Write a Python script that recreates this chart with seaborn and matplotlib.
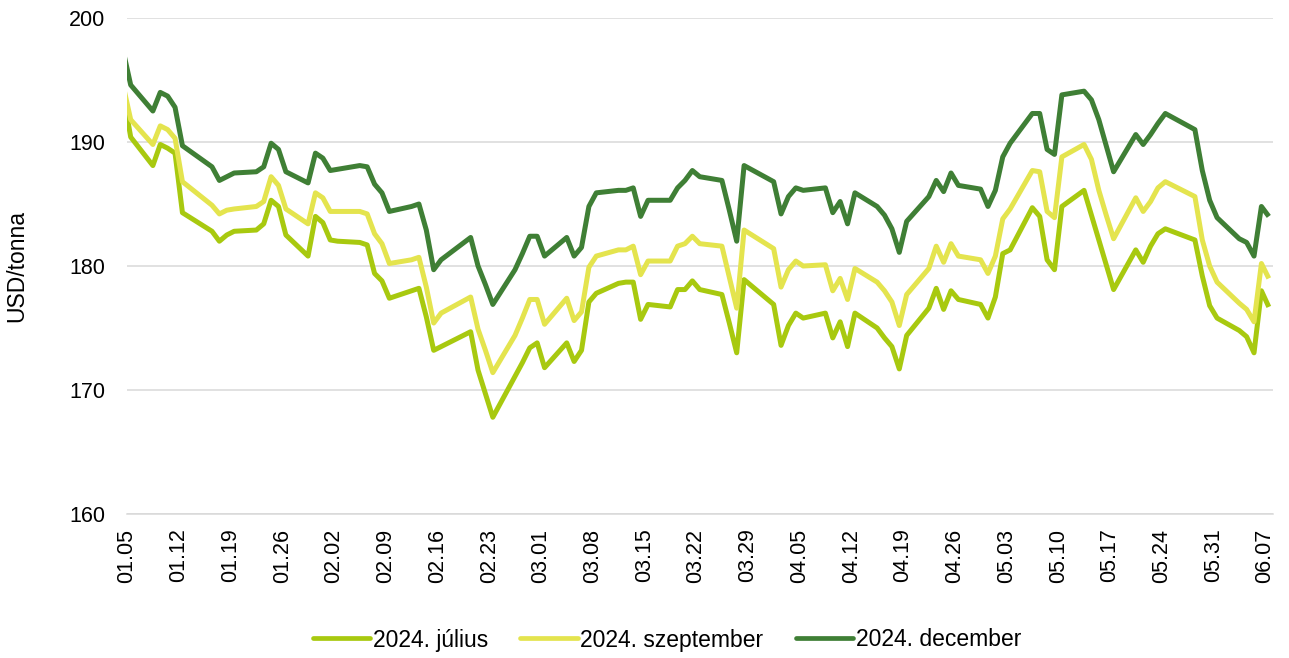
import matplotlib
matplotlib.use("Agg")
import matplotlib.pyplot as plt
import seaborn as sns
import pandas as pd

# Trading days (2024), MM.DD
dates = [
    "01.04", "01.05", "01.08", "01.09", "01.10", "01.11", "01.12", "01.16", "01.17", "01.18",
    "01.19", "01.22", "01.23", "01.24", "01.25", "01.26", "01.29", "01.30", "01.31",
    "02.01", "02.02", "02.05", "02.06", "02.07", "02.08", "02.09", "02.12", "02.13", "02.14",
    "02.15", "02.16", "02.20", "02.21", "02.22", "02.23", "02.26", "02.27", "02.28", "02.29",
    "03.01", "03.04", "03.05", "03.06", "03.07", "03.08", "03.11", "03.12", "03.13", "03.14",
    "03.15", "03.18", "03.19", "03.20", "03.21", "03.22", "03.25", "03.26", "03.27", "03.28",
    "04.01", "04.02", "04.03", "04.04", "04.05", "04.08", "04.09", "04.10", "04.11", "04.12",
    "04.15", "04.16", "04.17", "04.18", "04.19", "04.22", "04.23", "04.24", "04.25", "04.26",
    "04.29", "04.30",
    "05.01", "05.02", "05.03", "05.06", "05.07", "05.08", "05.09", "05.10", "05.13", "05.14",
    "05.15", "05.16", "05.17", "05.20", "05.21", "05.22", "05.23", "05.24", "05.28", "05.29",
    "05.30", "05.31",
    "06.03", "06.04", "06.05", "06.06", "06.07",
]

julius = [
    193.8, 190.4, 188.1, 189.8, 189.5, 189.1, 184.3, 182.8, 182.0, 182.5,
    182.8, 182.9, 183.4, 185.3, 184.8, 182.5, 180.8, 184.0, 183.5,
    182.1, 182.0, 181.9, 181.7, 179.4, 178.8, 177.4, 178.0, 178.2, 175.9,
    173.2, 173.5, 174.7, 171.6, 169.7, 167.8, 171.1, 172.2, 173.4, 173.8,
    171.8, 173.8, 172.3, 173.2, 177.1, 177.8, 178.6, 178.7, 178.7, 175.7,
    176.9, 176.7, 178.1, 178.1, 178.8, 178.1, 177.7, 175.4, 173.0, 178.9,
    176.9, 173.6, 175.2, 176.2, 175.8, 176.2, 174.2, 175.5, 173.5, 176.2,
    175.0, 174.2, 173.5, 171.7, 174.4, 176.6, 178.2, 176.5, 178.0, 177.3,
    176.9, 175.8,
    177.5, 181.0, 181.3, 184.7, 184.0, 180.5, 179.7, 184.8, 186.1, 184.1,
    182.1, 180.1, 178.1, 181.3, 180.3, 181.6, 182.6, 183.0, 182.1, 179.2,
    176.8, 175.8,
    174.8, 174.3, 173.0, 178.0, 176.7,
]

szeptember = [
    194.5, 191.8, 189.8, 191.3, 191.0, 190.3, 186.8, 184.9, 184.2, 184.5,
    184.6, 184.8, 185.2, 187.2, 186.5, 184.6, 183.4, 185.9, 185.5,
    184.4, 184.4, 184.4, 184.2, 182.6, 181.8, 180.2, 180.5, 180.7, 178.3,
    175.4, 176.2, 177.5, 174.9, 173.2, 171.4, 174.4, 175.8, 177.3, 177.3,
    175.3, 177.4, 175.6, 176.3, 179.9, 180.8, 181.3, 181.3, 181.6, 179.3,
    180.4, 180.4, 181.6, 181.8, 182.4, 181.8, 181.6, 179.1, 176.6, 182.9,
    181.4, 178.3, 179.7, 180.4, 180.0, 180.1, 178.0, 179.0, 177.3, 179.8,
    178.7, 178.0, 177.1, 175.2, 177.7, 179.8, 181.6, 180.3, 181.8, 180.8,
    180.5, 179.4,
    180.8, 183.8, 184.6, 187.7, 187.6, 184.4, 183.9, 188.8, 189.8, 188.6,
    186.1, 184.1, 182.2, 185.5, 184.4, 185.2, 186.3, 186.8, 185.6, 182.1,
    180.0, 178.7,
    177.0, 176.5, 175.5, 180.2, 179.0,
]

december = [
    197.3, 194.6, 192.5, 194.0, 193.7, 192.8, 189.7, 188.0, 186.9, 187.2,
    187.5, 187.6, 188.0, 189.9, 189.4, 187.6, 186.7, 189.1, 188.7,
    187.7, 187.8, 188.1, 188.0, 186.6, 185.9, 184.4, 184.8, 185.0, 182.9,
    179.7, 180.5, 182.3, 180.0, 178.5, 176.9, 179.7, 181.0, 182.4, 182.4,
    180.8, 182.3, 180.8, 181.5, 184.8, 185.9, 186.1, 186.1, 186.3, 184.0,
    185.3, 185.3, 186.3, 186.9, 187.7, 187.2, 186.9, 184.5, 182.0, 188.1,
    186.8, 184.2, 185.6, 186.3, 186.1, 186.3, 184.3, 185.2, 183.4, 185.9,
    184.8, 184.1, 183.0, 181.1, 183.6, 185.6, 186.9, 186.0, 187.5, 186.5,
    186.2, 184.8,
    186.1, 188.8, 189.9, 192.3, 192.3, 189.4, 189.0, 193.8, 194.1, 193.4,
    191.8, 189.7, 187.6, 190.6, 189.8, 190.6, 191.5, 192.3, 191.0, 187.7,
    185.3, 183.9,
    182.2, 181.9, 180.8, 184.8, 184.0,
]

series_names = ["2024. július", "2024. szeptember", "2024. december"]
colors = ["#A8C90F", "#E4E44E", "#3F7F35"]
y_ticks = [160, 170, 180, 190, 200]

# ---- build long table (points sit in the middle of each day slot)
dt = pd.to_datetime(["2024." + d for d in dates], format="%Y.%m.%d") + pd.Timedelta(hours=12)
frames = []
for name, vals in zip(series_names, [julius, szeptember, december]):
    frames.append(pd.DataFrame({"date": dt, "value": vals, "series": name}))
df = pd.concat(frames, ignore_index=True)

sns.set_theme(style="white")
plt.rcParams["font.family"] = ["Liberation Sans", "DejaVu Sans"]
plt.rcParams["text.color"] = "black"

fig = plt.figure(figsize=(12.89, 6.58), dpi=100)
ax = fig.add_axes([127 / 1289, 1 - 514 / 658, (1272.5 - 127) / 1289, (514 - 18) / 658])

sns.lineplot(data=df, x="date", y="value", hue="series", hue_order=series_names,
             palette=colors, linewidth=3.6, ax=ax, legend=False, sort=False)
for ln in ax.lines:
    ln.set_solid_joinstyle("round")
    ln.set_solid_capstyle("butt")

ax.set_xlim(pd.Timestamp("2024-01-05"), pd.Timestamp("2024-06-08"))
ax.set_ylim(160, 200)
ax.set_yticks(y_ticks)
ax.yaxis.grid(True, color="#D9D9D9", linewidth=1.1)
ax.xaxis.grid(False)
ax.set_axisbelow(True)

ticks = pd.date_range("2024-01-05", "2024-06-07", freq="7D")
ax.set_xticks(ticks)
ax.set_xticklabels([t.strftime("%m.%d") for t in ticks], rotation=90, fontsize=15.5)
ax.tick_params(axis="x", direction="out", length=4, width=1, color="#D9D9D9", pad=6.5, labelcolor="black")
ax.tick_params(axis="y", length=0, pad=15.5, labelsize=15.5, labelcolor="black")

for s in ["top", "right", "left"]:
    ax.spines[s].set_visible(False)
ax.spines["bottom"].set_color("#D9D9D9")
ax.spines["bottom"].set_linewidth(1.1)

ax.set_xlabel("")
ax.set_ylabel("")
fig.text(17 / 1289, 1 - 266 / 658, "USD/tonna", rotation=90, ha="center", va="center",
         fontsize=16.5, color="black")

handles = [plt.Line2D([0], [0], color=c, linewidth=3.4, solid_capstyle="round") for c in colors]
leg = fig.legend(handles, series_names, loc="center", bbox_to_anchor=(667 / 1289, 1 - 640 / 658),
                 ncol=3, frameon=False, fontsize=16.5, handlelength=2.5, handletextpad=0.12,
                 columnspacing=1.4)
for t in leg.get_texts():
    t.set_color("black")

fig.savefig("out.png", dpi=100)
